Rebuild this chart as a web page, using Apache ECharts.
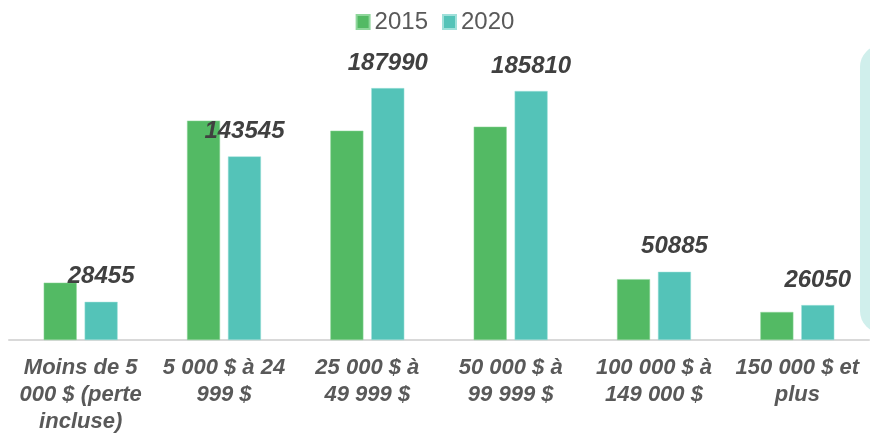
<!DOCTYPE html>
<html>
<head>
<meta charset="utf-8">
<script src="https://cdn.jsdelivr.net/npm/echarts@6/dist/echarts.min.js"></script>
<style>
  html, body { margin: 0; padding: 0; background: #fff; }
  #chart { width: 870px; height: 437px; }
</style>
</head>
<body>
<div id="chart"></div>
<script>
// catégories de revenu
const categories = [
  'Moins de 5\n000 $ (perte\nincluse)',
  '5 000 $ à 24\n999 $',
  '25 000 $ à\n49 999 $',
  '50 000 $ à\n99 999 $',
  '100 000 $ à\n149 000 $',
  '150 000 $ et\nplus'
];
const values2015 = [42800, 163700, 156200, 159200, 45400, 20900];
const values2020 = [28455, 137000, 187990, 185810, 50885, 26050];
// étiquettes affichées au-dessus des barres 2020
const labels2020 = ['28455', '143545', '187990', '185810', '50885', '26050'];

const chart = echarts.init(document.getElementById('chart'), null, { renderer: 'canvas' });

const option = {
  animation: false,
  legend: {
    top: 5,
    left: 'center',
    icon: 'rect',
    itemWidth: 13,
    itemHeight: 14,
    itemGap: 14,
    textStyle: { fontFamily: 'Liberation Sans', fontSize: 24, color: '#595959' },
    data: ['2015', '2020']
  },
  grid: { left: 9, right: 1, top: 72, bottom: 97 },
  xAxis: {
    type: 'category',
    data: categories,
    axisTick: { show: false },
    axisLine: { lineStyle: { color: '#d9d9d9', width: 2 } },
    axisLabel: {
      interval: 0,
      margin: 14,
      fontFamily: 'Liberation Sans',
      fontWeight: 'bold',
      fontStyle: 'italic',
      fontSize: 22,
      lineHeight: 27,
      color: '#595959'
    }
  },
  yAxis: {
    type: 'value',
    min: 0,
    max: 200000,
    show: false
  },
  series: [
    {
      name: '2015',
      type: 'bar',
      data: values2015,
      barWidth: 33,
      barGap: '24%',
      itemStyle: { color: '#53ba64', borderColor: '#8fd69b', borderWidth: 0.5 }
    },
    {
      name: '2020',
      type: 'bar',
      data: values2020,
      barWidth: 33,
      itemStyle: { color: '#54c3b8', borderColor: '#9fe0da', borderWidth: 0.5 },
      label: {
        show: true,
        position: 'top',
        distance: 13,
        fontFamily: 'Liberation Sans',
        fontWeight: 'bold',
        fontStyle: 'italic',
        fontSize: 24,
        color: '#404040',
        formatter: p => labels2020[p.dataIndex]
      }
    }
  ],
  graphic: [
    {
      type: 'rect',
      z: -1,
      shape: { x: 860, y: 45, width: 60, height: 288, r: 22 },
      style: { fill: '#d0efec' }
    }
  ]
};

chart.setOption(option);
</script>
</body>
</html>
